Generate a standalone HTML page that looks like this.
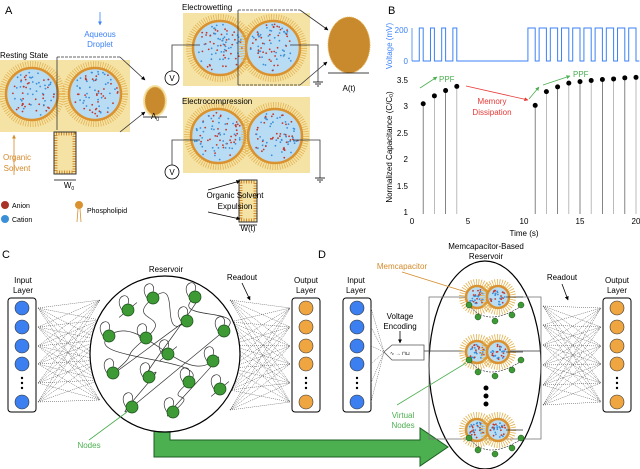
<!DOCTYPE html>
<html><head><meta charset="utf-8">
<style>
html,body{margin:0;padding:0;background:#fff;width:640px;height:469px;overflow:hidden}
svg{display:block}
text{font-family:"Liberation Sans",sans-serif}
</style></head>
<body>
<svg id="s" width="640" height="469" viewBox="0 0 640 469" xmlns="http://www.w3.org/2000/svg">
<defs>
<marker id="ah" viewBox="0 0 10 10" refX="9" refY="5" markerWidth="5" markerHeight="5" orient="auto"><path d="M0,0L10,5L0,10z" fill="#000"/></marker>
<marker id="ahg" viewBox="0 0 10 10" refX="9" refY="5" markerWidth="5" markerHeight="5" orient="auto"><path d="M0,0L10,5L0,10z" fill="#4caf50"/></marker>
<marker id="ahr" viewBox="0 0 10 10" refX="9" refY="5" markerWidth="5" markerHeight="5" orient="auto"><path d="M0,0L10,5L0,10z" fill="#e53935"/></marker>
<marker id="aho" viewBox="0 0 10 10" refX="9" refY="5" markerWidth="5" markerHeight="5" orient="auto"><path d="M0,0L10,5L0,10z" fill="#d48a2a"/></marker>
<marker id="ahb" viewBox="0 0 10 10" refX="9" refY="5" markerWidth="5" markerHeight="5" orient="auto"><path d="M0,0L10,5L0,10z" fill="#3b82f6"/></marker>
</defs>
<g id="g"></g>
<text x="5" y="14" font-size="11">A</text>
<text x="388" y="14" font-size="11">B</text>
<text x="2" y="258" font-size="11">C</text>
<text x="318" y="258" font-size="11">D</text>
<text x="0" y="58" font-size="8">Resting State</text>
<text x="100" y="37" font-size="8" fill="#3b82f6" text-anchor="middle">Aqueous</text>
<text x="100" y="47" font-size="8" fill="#3b82f6" text-anchor="middle">Droplet</text>
<text x="17" y="160" font-size="8" fill="#d48a2a" text-anchor="middle">Organic</text>
<text x="17" y="171" font-size="8" fill="#d48a2a" text-anchor="middle">Solvent</text>
<text x="182" y="10" font-size="8">Electrowetting</text>
<text x="182" y="104" font-size="8">Electrocompression</text>
<text x="235" y="198" font-size="8" text-anchor="middle">Organic Solvent</text>
<text x="235" y="209" font-size="8" text-anchor="middle">Expulsion</text>
<text x="69" y="188" font-size="8" text-anchor="middle">W<tspan font-size="5" dy="2">0</tspan></text>
<text x="155" y="119" font-size="8" text-anchor="middle">A<tspan font-size="5" dy="2">0</tspan></text>
<text x="349" y="91" font-size="8" text-anchor="middle">A(t)</text>
<text x="248" y="231" font-size="8" text-anchor="middle">W(t)</text>
<text x="12" y="208" font-size="7">Anion</text>
<text x="12" y="222" font-size="7">Cation</text>
<text x="87" y="213" font-size="7">Phospholipid</text>
<text x="408" y="33" font-size="8" fill="#3b82f6" text-anchor="end">200</text>
<text x="408" y="64" font-size="8" fill="#3b82f6" text-anchor="end">0</text>
<text x="392" y="46" font-size="8" fill="#3b82f6" transform="rotate(-90 392 46)" text-anchor="middle">Voltage (mV)</text>
<text x="392" y="147" font-size="8" transform="rotate(-90 392 147)" text-anchor="middle">Normalized Capacitance (C/C<tspan font-size="5" dy="1">0</tspan><tspan dy="-1">)</tspan></text>
<text x="492" y="104" font-size="8" fill="#e53935" text-anchor="middle">Memory</text>
<text x="492" y="115" font-size="8" fill="#e53935" text-anchor="middle">Dissipation</text>
<text x="439" y="82" font-size="8" fill="#4caf50">PPF</text>
<text x="573" y="77" font-size="8" fill="#4caf50">PPF</text>
<text x="524" y="236" font-size="8" text-anchor="middle">Time (s)</text>
<text x="23" y="283" font-size="8" text-anchor="middle">Input</text>
<text x="23" y="293" font-size="8" text-anchor="middle">Layer</text>
<text x="306" y="283" font-size="8" text-anchor="middle">Output</text>
<text x="306" y="293" font-size="8" text-anchor="middle">Layer</text>
<text x="166" y="272" font-size="8" text-anchor="middle">Reservoir</text>
<text x="242" y="280" font-size="8" text-anchor="middle">Readout</text>
<text x="89" y="448" font-size="8" fill="#4caf50" text-anchor="middle">Nodes</text>
<text x="356" y="283" font-size="8" text-anchor="middle">Input</text>
<text x="356" y="293" font-size="8" text-anchor="middle">Layer</text>
<text x="617" y="283" font-size="8" text-anchor="middle">Output</text>
<text x="617" y="293" font-size="8" text-anchor="middle">Layer</text>
<text x="486" y="249" font-size="8" text-anchor="middle">Memcapacitor-Based</text>
<text x="486" y="259" font-size="8" text-anchor="middle">Reservoir</text>
<text x="402" y="269" font-size="8" fill="#d48a2a" text-anchor="middle">Memcapacitor</text>
<text x="562" y="280" font-size="8" text-anchor="middle">Readout</text>
<text x="400" y="319" font-size="8" text-anchor="middle">Voltage</text>
<text x="400" y="329" font-size="8" text-anchor="middle">Encoding</text>
<text x="403" y="418" font-size="8" fill="#4caf50" text-anchor="middle">Virtual</text>
<text x="403" y="428" font-size="8" fill="#4caf50" text-anchor="middle">Nodes</text>
</svg>
<script>
var g=document.getElementById('g'),h='';
var seed=7;function R(){seed=(seed*16807)%2147483647;return seed/2147483647;}
function droplet(cx,cy,r,dens){
 h+='<circle cx="'+cx+'" cy="'+cy+'" r="'+(r+4)+'" fill="none" stroke="#e3b453" stroke-width="6" stroke-dasharray="0.8 1.6"/>';
 h+='<circle cx="'+cx+'" cy="'+cy+'" r="'+r+'" fill="#b9dcf5" stroke="#d9922f" stroke-width="2.5"/>';
 var n=dens||60;
 for(var i=0;i<n;i++){var a=R()*6.283,d=Math.sqrt(R())*(r-3);
  h+='<circle cx="'+(cx+d*Math.cos(a)).toFixed(1)+'" cy="'+(cy+d*Math.sin(a)).toFixed(1)+'" r="0.9" fill="'+(i%2?'#c0392b':'#3b8fd6')+'"/>';}
}
function rect(x,y,w,hh,f,s){h+='<rect x="'+x+'" y="'+y+'" width="'+w+'" height="'+hh+'" fill="'+f+'" stroke="'+(s||'none')+'"/>';}
function line(x1,y1,x2,y2,st,extra){h+='<line x1="'+x1+'" y1="'+y1+'" x2="'+x2+'" y2="'+y2+'" stroke="'+(st||'#000')+'" stroke-width="0.8" '+(extra||'')+'/>';}
rect(0,60,130,72,'#f5e3a6');droplet(32,94,26,70);droplet(95,94,26,70);
line(57,57,57,130,'#333');line(57,57,120,57,'#333','stroke-dasharray="3 1"');
line(120,57,145,80,'#333','marker-end="url(#ah)"');line(120,132,145,112,'#333','marker-end="url(#ah)"');
h+='<ellipse cx="155" cy="101" rx="12" ry="16" fill="#f5e3a6"/><ellipse cx="155" cy="101" rx="10" ry="14" fill="#c98a2e" stroke="#e3b453" stroke-dasharray="1 1"/>';
line(143,117,167,117);
rect(54,132,22,42,'#f5e3a6','#333');h+='<rect x="56" y="134" width="18" height="38" fill="none" stroke="#d48a2a" stroke-width="3" stroke-dasharray="1 1.5"/>';
line(54,180,76,180);line(14,175,14,135,'#d48a2a','marker-end="url(#aho)"');line(100,12,100,25,'#3b82f6','marker-end="url(#ahb)"');
h+='<circle cx="5" cy="205" r="4" fill="#a93226"/><circle cx="5" cy="219" r="4" fill="#3b8fd6"/><circle cx="79" cy="205" r="4" fill="#d9922f"/>';line(78,209,77,222,'#d9922f');line(80,209,81,222,'#d9922f');
rect(183,13,127,73,'#f5e3a6');droplet(220,48,27,80);droplet(273,48,27,80);
line(238,10,238,85,'#333');line(238,10,300,10,'#333','stroke-dasharray="3 1"');line(300,10,328,30,'#333','marker-end="url(#ah)"');line(238,85,300,85,'#333','stroke-dasharray="3 1"');line(300,85,327,62,'#333','marker-end="url(#ah)"');
h+='<ellipse cx="349" cy="45" rx="21" ry="28" fill="#c98a2e" stroke="#e3b453" stroke-dasharray="1 1"/>';line(328,73,369,73);
h+='<path d="M200,45H172V71M290,45H318V82" fill="none" stroke="#333" stroke-width="0.8"/>';
h+='<circle cx="172" cy="78" r="7" fill="#fff" stroke="#000" stroke-width="0.8"/><text x="172" y="81" font-size="8" text-anchor="middle">V</text>';
line(313,82,323,82);line(315,84,321,84);line(317,86,319,86);
rect(183,97,127,76,'#f5e3a6');droplet(218,136,27,80);droplet(275,136,27,80);
h+='<path d="M200,140H172V165M293,140H320V178" fill="none" stroke="#333" stroke-width="0.8"/>';
h+='<circle cx="172" cy="172" r="7" fill="#fff" stroke="#000" stroke-width="0.8"/><text x="172" y="175" font-size="8" text-anchor="middle">V</text>';
line(315,178,325,178);line(317,180,323,180);line(319,182,321,182);
rect(239,180,18,42,'#f5e3a6','#333');h+='<rect x="241" y="182" width="14" height="38" fill="none" stroke="#d48a2a" stroke-width="3" stroke-dasharray="1 1.5"/>';line(239,225,257,225);
line(208,190,240,181,'#000','marker-end="url(#ah)"');line(208,212,240,219,'#000','marker-end="url(#ah)"');
var x0=412,sx=11.2;function X(t){return x0+t*sx;}
var p='M'+X(0)+',61';
[1,2,3,4].forEach(function(t){p+='H'+X(t-0.35)+'V28H'+X(t)+'V61';});
for(var t=11;t<=20;t++){p+='H'+X(t-0.65)+'V28H'+X(t)+'V61';}
p+='H'+X(20.3);
h+='<path d="'+p+'" fill="none" stroke="#3b82f6" stroke-width="1"/>';
line(412,28,412,61,'#3b82f6');
var ys=[[80,'3.5'],[106,'3'],[133,'2.5'],[159,'2'],[186,'1.5'],[212,'1']];
ys.forEach(function(a){h+='<text x="408" y="'+(a[0]+3)+'" font-size="8" text-anchor="end">'+a[1]+'</text>';});
[[0,'0'],[5,'5'],[10,'10'],[15,'15'],[20,'20']].forEach(function(a){h+='<text x="'+X(a[0])+'" y="224" font-size="8" text-anchor="middle">'+a[1]+'</text>';});
var vals={1:3.05,2:3.2,3:3.3,4:3.38,11:3.02,12:3.28,13:3.37,14:3.44,15:3.47,16:3.49,17:3.51,18:3.52,19:3.54,20:3.55};
for(var k in vals){var y=212-(vals[k]-1)*52.8,col=(k%2?'#666':'#aaa');line(X(k),y,X(k),214,col,'stroke-width="1.2"');h+='<circle cx="'+X(k)+'" cy="'+y+'" r="2.5" fill="#000"/>';}
line(420,88,437,77,'#4caf50','marker-end="url(#ahg)"');line(529,99,539,87,'#4caf50','marker-end="url(#ahg)"');line(543,85,570,76,'#4caf50','marker-end="url(#ahg)"');
line(466,86,528,100,'#e53935','marker-end="url(#ahr)"');
function layer(x,col){h+='<rect x="'+x+'" y="298" width="28" height="114" rx="3" fill="#fff" stroke="#000" stroke-width="1"/>';
 [308,327,346,364,402].forEach(function(y){h+='<circle cx="'+(x+14)+'" cy="'+y+'" r="7" fill="'+col+'" stroke="#333" stroke-width="0.6"/>';});
 [378,383,388].forEach(function(y){h+='<circle cx="'+(x+14)+'" cy="'+y+'" r="1.2" fill="#000"/>';});}
function mesh(x1,x2,ya,yb){for(var i=0;i<6;i++)for(var j=0;j<6;j++){h+='<line x1="'+x1+'" y1="'+ya[i]+'" x2="'+x2+'" y2="'+yb[j]+'" stroke="#444" stroke-width="0.5" stroke-dasharray="1 1"/>';}}
var L=[308,327,346,364,383,402];
mesh(38,100,L,[300,320,340,360,380,400]);
mesh(230,290,[300,322,345,368,390,410],L);
mesh(543,601,[306,325,345,365,385,405],L);
layer(8,'#3b7ff0');layer(292,'#f0a640');layer(343,'#3b7ff0');layer(603,'#f0a640');
h+='<path d="M154,430V457H420V466L448,447L420,428V440H170V430Z" fill="#4caf50" stroke="#1b5e20" stroke-width="1"/>';
h+='<ellipse cx="165" cy="354" rx="75" ry="78" fill="#fff" stroke="#000" stroke-width="1.2"/>';
var N=[[153,298],[195,297],[128,310],[187,321],[224,331],[109,336],[146,338],[168,354],[213,361],[113,373],[149,377],[189,382],[220,389],[132,407],[173,412]];
var pp='';for(var i=0;i<N.length;i++){var a=N[i],b=N[(i*7+3)%N.length];pp+='M'+a[0]+','+a[1]+'C'+(a[0]+30)+','+(a[1]-25)+' '+(b[0]-30)+','+(b[1]+25)+' '+b[0]+','+b[1];
 pp+='M'+(a[0]-6)+','+a[1]+'c-10,-15 10,-20 6,-6';}
h+='<path d="'+pp+'" fill="none" stroke="#333" stroke-width="0.7"/>';
N.forEach(function(a){h+='<circle cx="'+a[0]+'" cy="'+a[1]+'" r="6" fill="#3d9a35" stroke="#1a4d17" stroke-width="0.7"/>';});
line(89,440,127,412,'#4caf50');line(242,283,250,300,'#000','marker-end="url(#ah)"');
h+='<ellipse cx="485" cy="365" rx="56" ry="104" fill="#fff" stroke="#000" stroke-width="1.2"/>';
h+='<rect x="429" y="297" width="112" height="142" fill="none" stroke="#777" stroke-width="0.8"/>';
line(424,351,541,351,'#333');
h+='<path d="M424,345H392L384,352L392,360H424Z" fill="#fff" stroke="#555" stroke-width="0.8"/><text x="390" y="355" font-size="5">∿ → ⊓⊔</text>';
L.forEach(function(y){h+='<line x1="371" y1="'+y+'" x2="384" y2="352" stroke="#444" stroke-width="0.5" stroke-dasharray="1 1"/>';});
line(400,331,400,343,'#000','marker-end="url(#ah)"');
[297,352,430].forEach(function(cy){droplet(477,cy,11,30);droplet(498,cy,11,30);line(506,cy,523,cy,'#333');
 h+='<path d="M469,'+(cy+8)+'Q487,'+(cy+32)+' 523,'+(cy+8)+'" fill="none" stroke="#333" stroke-width="0.6" stroke-dasharray="2 1"/>';
 [[469,cy+8],[478,cy+20],[495,cy+24],[512,cy+18],[521,cy+8]].forEach(function(q){h+='<circle cx="'+q[0]+'" cy="'+q[1]+'" r="3" fill="#3d9a35" stroke="#1a4d17" stroke-width="0.5"/>';});});
[388,396,404].forEach(function(y){h+='<circle cx="486" cy="'+y+'" r="2.5" fill="#000"/>';});
line(402,272,466,292,'#d48a2a');line(397,405,466,363,'#4caf50');line(562,284,568,300,'#000','marker-end="url(#ah)"');
g.innerHTML=h;
</script>
</body></html>
